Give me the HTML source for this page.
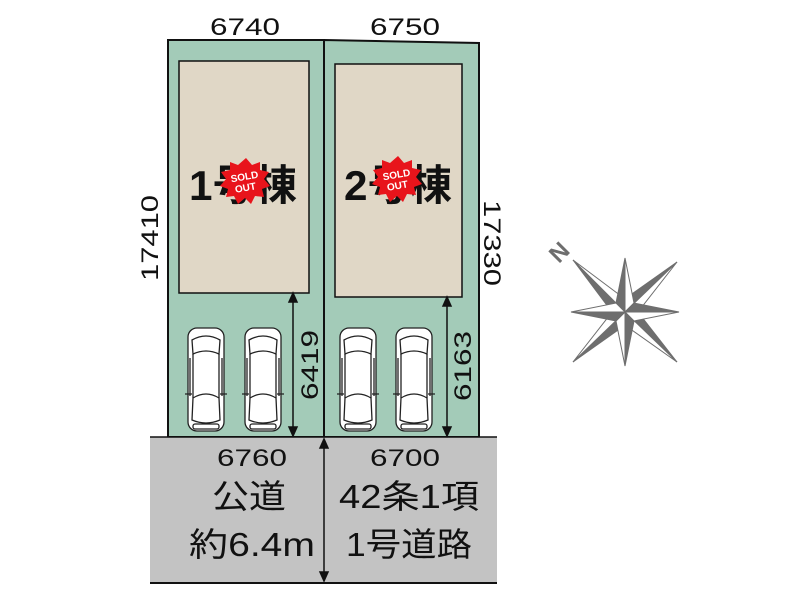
<!DOCTYPE html>
<html><head><meta charset="utf-8"><style>
html,body{margin:0;padding:0;background:#fff;}
svg{display:block;}
text{font-family:"Liberation Sans","Noto Sans CJK JP",sans-serif;}
</style></head><body>
<svg width="800" height="600" viewBox="0 0 800 600" xmlns="http://www.w3.org/2000/svg">
<defs>
<g id="car" fill="#fff" stroke="#222" stroke-width="1.3">
  <rect x="0" y="0" width="36" height="103" rx="9"/>
  <path d="M4 12 Q18 4 32 12 L31 26 Q18 20 5 26 Z"/>
  <path d="M5 26 L5 70 M31 26 L31 70"/>
  <path d="M5 70 Q18 62 31 70 L32 92 Q18 98 4 92 Z"/>
  <path d="M2 30 L2 68 M34 30 L34 68"/>
  <path d="M-3 66 L4 66 M32 66 L39 66"/>
  <rect x="5" y="96" width="26" height="5" rx="2"/>
</g>
</defs>
<polygon points="168,40 324,40 324,437 168,437" fill="#a3cbb8" stroke="#111" stroke-width="2"/>
<polygon points="324,40 479,43 479,437 324,437" fill="#a3cbb8" stroke="#111" stroke-width="2"/>
<rect x="179" y="61" width="130" height="232" fill="#e0d7c6" stroke="#111" stroke-width="1.5"/>
<rect x="335" y="64" width="127" height="233" fill="#e0d7c6" stroke="#111" stroke-width="1.5"/>
<rect x="150" y="437" width="347" height="146" fill="#c3c3c3"/>
<line x1="150" y1="437" x2="497" y2="437" stroke="#111" stroke-width="1.5"/>
<line x1="150" y1="583" x2="497" y2="583" stroke="#111" stroke-width="2"/>
<use href="#car" x="188" y="328"/>
<use href="#car" x="245" y="328"/>
<use href="#car" x="340" y="328"/>
<use href="#car" x="396" y="328"/>
<g stroke="#111" stroke-width="1.5" fill="#111">
<line x1="293" y1="296" x2="293" y2="434"/>
<path d="M293 293 L289 302 L297 302 Z"/><path d="M293 436 L289 427 L297 427 Z"/>
<line x1="447" y1="300" x2="447" y2="434"/>
<path d="M447 297 L443 306 L451 306 Z"/><path d="M447 436 L443 427 L451 427 Z"/>
<line x1="324" y1="442" x2="324" y2="578"/>
<path d="M324 439 L320 448 L328 448 Z"/><path d="M324 581 L320 572 L328 572 Z"/>
</g>
<g font-size="24" fill="#111" text-anchor="middle">
<text x="245" y="35" textLength="70" lengthAdjust="spacingAndGlyphs">6740</text>
<text x="405" y="35" textLength="70" lengthAdjust="spacingAndGlyphs">6750</text>
<text x="252" y="466" textLength="70" lengthAdjust="spacingAndGlyphs">6760</text>
<text x="405" y="466" textLength="70" lengthAdjust="spacingAndGlyphs">6700</text>
<text transform="translate(158,238) rotate(-90)" textLength="86" lengthAdjust="spacingAndGlyphs">17410</text>
<text transform="translate(484,243) rotate(90)" textLength="86" lengthAdjust="spacingAndGlyphs">17330</text>
<text transform="translate(318,365) rotate(-90)" textLength="70" lengthAdjust="spacingAndGlyphs">6419</text>
<text transform="translate(471,366) rotate(-90)" textLength="70" lengthAdjust="spacingAndGlyphs">6163</text>
</g>
<g font-size="33" fill="#111" text-anchor="middle">
<text x="249" y="508" textLength="74" lengthAdjust="spacingAndGlyphs">公道</text>
<text x="252" y="556" textLength="126" lengthAdjust="spacingAndGlyphs">約6.4m</text>
<text x="409" y="508" textLength="140" lengthAdjust="spacingAndGlyphs">42条1項</text>
<text x="409" y="556" textLength="126" lengthAdjust="spacingAndGlyphs">1号道路</text>
</g>
<g font-size="42" fill="#111" font-weight="bold">
<text x="189" y="200" textLength="108" lengthAdjust="spacingAndGlyphs">1号棟</text>
<text x="344" y="200" textLength="108" lengthAdjust="spacingAndGlyphs">2号棟</text>
</g>
<g>
<polygon fill="#e8141b" points="246,158 252,165 260,162 260,170 269,172 264,179 270,186 262,189 264,197 255,196 251,204 245,198 238,204 234,196 226,197 228,189 220,186 226,179 221,172 230,170 230,162 238,165"/>
<text x="245" y="180" font-size="10" fill="#fff" font-weight="bold" text-anchor="middle" transform="rotate(-10 245 180)">SOLD</text>
<text x="246" y="191" font-size="10" fill="#fff" font-weight="bold" text-anchor="middle" transform="rotate(-10 246 191)">OUT</text>
</g>
<g>
<polygon fill="#e8141b" points="398,156 404,163 412,160 412,168 421,170 416,177 422,184 414,187 416,195 407,194 403,202 397,196 390,202 386,194 378,195 380,187 372,184 378,177 373,170 382,168 382,160 390,163"/>
<text x="397" y="178" font-size="10" fill="#fff" font-weight="bold" text-anchor="middle" transform="rotate(-10 397 178)">SOLD</text>
<text x="398" y="189" font-size="10" fill="#fff" font-weight="bold" text-anchor="middle" transform="rotate(-10 398 189)">OUT</text>
</g>
<g transform="translate(625,312)">
<g fill="#6e6e6e" stroke="#6e6e6e" stroke-width="1">
<polygon points="0,0 -52,-52 -16,-4"/><polygon points="0,0 -52,-52 -4,-16" fill="#fff"/>
<polygon points="0,0 52,-50 4,-16"/><polygon points="0,0 52,-50 16,-4" fill="#fff"/>
<polygon points="0,0 52,50 16,4"/><polygon points="0,0 52,50 4,16" fill="#fff"/>
<polygon points="0,0 -52,50 -4,16"/><polygon points="0,0 -52,50 -16,4" fill="#fff"/>
<polygon points="0,0 0,-54 -9,-9"/><polygon points="0,0 0,-54 9,-9" fill="#fff"/>
<polygon points="0,0 54,0 9,-9"/><polygon points="0,0 54,0 9,9" fill="#fff"/>
<polygon points="0,0 0,54 9,9"/><polygon points="0,0 0,54 -9,9" fill="#fff"/>
<polygon points="0,0 -54,0 -9,9"/><polygon points="0,0 -54,0 -9,-9" fill="#fff"/>
</g>
</g>
<text x="0" y="0" font-size="24" font-weight="bold" fill="#6e6e6e" text-anchor="middle" transform="translate(565,258) rotate(-45)">N</text>
</svg>
</body></html>
